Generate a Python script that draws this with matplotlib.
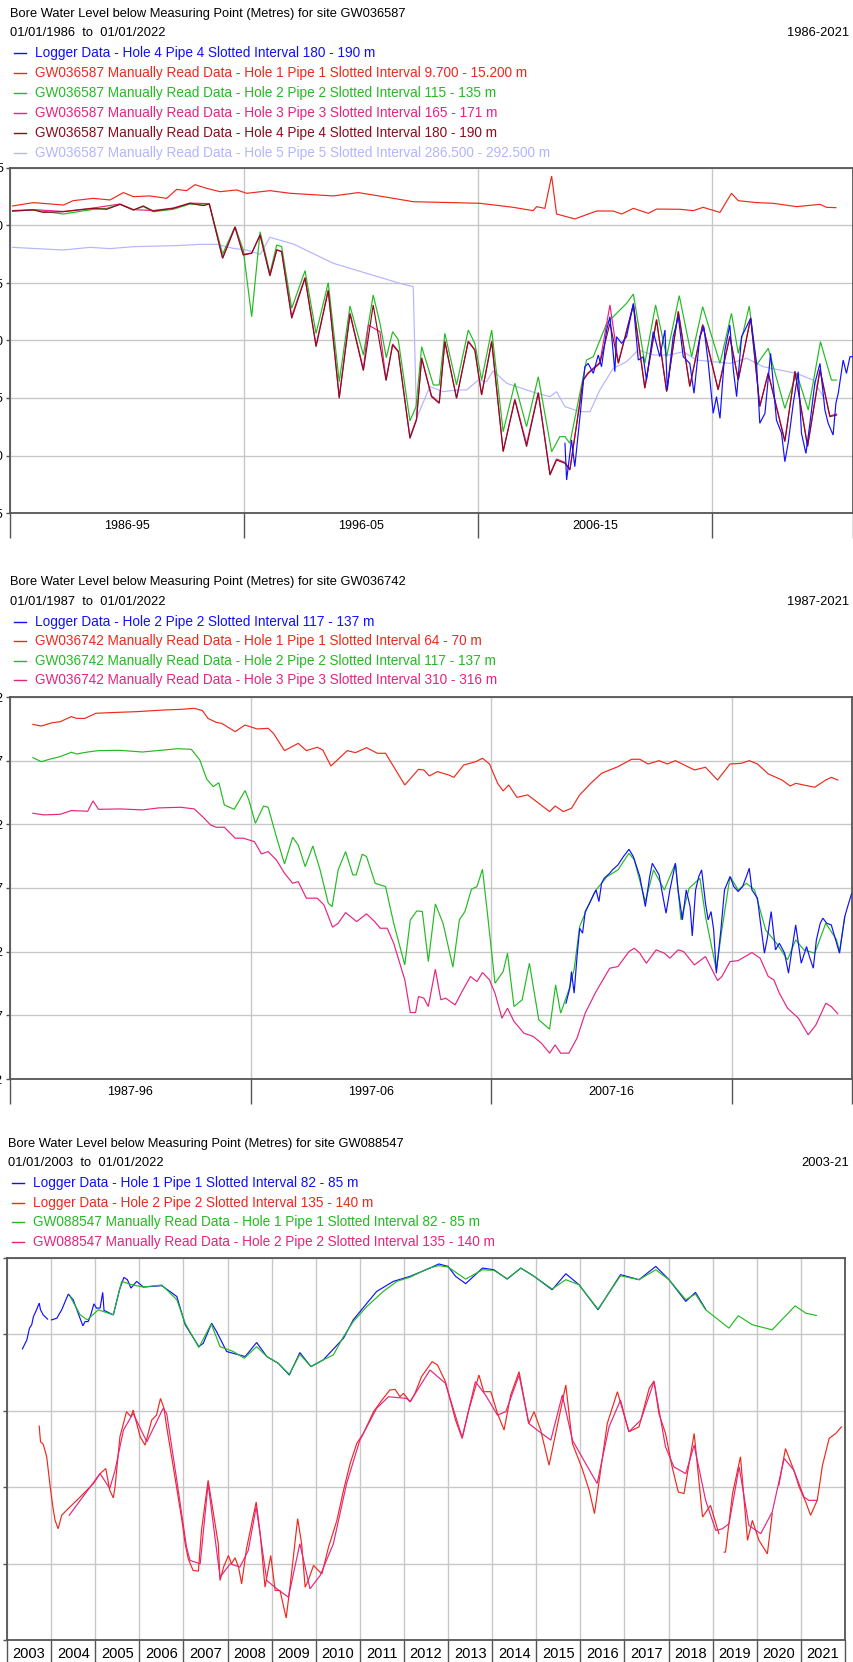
import numpy as np
import matplotlib
matplotlib.use("Agg")
import matplotlib.pyplot as plt
from matplotlib.lines import Line2D

plt.rcParams["font.family"] = ["Liberation Sans", "DejaVu Sans"]

W, H = 854, 1662          # output size in pixels (dpi 100)

# --- series colours ---
BLUE = "#1010ff"
RED = "#f0281c"
GREEN = "#22bb22"
PINK = "#e6247e"
DARKRED = "#8c0c1e"
LAVENDER = "#b4b4ff"
SPINE = "#555555"
GRID = "#c8c8c8"

# ---------------- GW036587 (depth in m, decimal year) ----------------
P1_LOGGER_H4 = [
    (2009.70, 28.94), (2009.77, 32.13), (2009.98, 28.65), (2010.12, 30.97), (2010.34, 26.62),
    (2010.55, 22.28), (2010.69, 21.99), (2010.91, 22.86), (2011.12, 21.26), (2011.26, 22.28),
    (2011.48, 19.09), (2011.62, 17.93), (2011.83, 22.71), (2011.90, 19.67), (2012.12, 20.25),
    (2012.33, 19.67), (2012.62, 16.77), (2012.83, 21.70), (2013.04, 21.41), (2013.18, 23.44),
    (2013.47, 19.23), (2013.75, 21.41), (2013.97, 19.09), (2014.07, 24.30), (2014.32, 19.67),
    (2014.54, 17.93), (2014.75, 21.41), (2015.03, 21.99), (2015.21, 24.59), (2015.46, 19.67),
    (2015.63, 18.80), (2015.82, 21.99), (2016.03, 26.33), (2016.17, 24.88), (2016.32, 26.77),
    (2016.53, 20.83), (2016.74, 18.65), (2016.89, 22.57), (2017.03, 24.88), (2017.24, 19.67),
    (2017.63, 18.07), (2017.88, 21.99), (2018.02, 27.20), (2018.24, 26.33), (2018.48, 21.12),
    (2018.73, 26.91), (2018.95, 28.07), (2019.09, 30.54), (2019.23, 28.94), (2019.45, 25.46),
    (2019.66, 22.71), (2019.80, 28.07), (2019.99, 29.82), (2020.16, 27.20), (2020.37, 23.72),
    (2020.59, 21.99), (2020.80, 26.04), (2020.94, 27.20), (2021.15, 28.22), (2021.27, 25.46),
    (2021.37, 24.59), (2021.58, 21.70), (2021.72, 22.86), (2021.87, 21.41), (2021.98, 21.41),
]
P1_MANUAL_H1 = [
    (1986.11, 8.30), (1987.00, 8.01), (1988.28, 8.22), (1988.70, 7.84), (1989.56, 7.64),
    (1990.27, 7.78), (1990.84, 7.14), (1991.27, 7.49), (1991.98, 7.43), (1992.69, 7.64),
    (1993.12, 6.86), (1993.54, 6.97), (1993.90, 6.45), (1994.40, 6.77), (1994.97, 7.06),
    (1995.68, 6.91), (1996.11, 7.20), (1997.10, 6.97), (1997.96, 7.20), (1999.81, 7.43),
    (2000.87, 7.14), (2001.94, 7.49), (2003.22, 7.93), (2006.07, 8.07), (2007.49, 8.42),
    (2008.34, 8.71), (2008.49, 8.36), (2008.84, 8.51), (2009.13, 5.70), (2009.34, 9.00),
    (2010.12, 9.43), (2011.05, 8.74), (2011.76, 8.74), (2012.12, 9.00), (2012.62, 8.51),
    (2013.26, 8.94), (2013.61, 8.57), (2014.61, 8.59), (2015.18, 8.71), (2015.60, 8.42),
    (2016.32, 8.86), (2016.81, 7.20), (2017.10, 7.84), (2017.88, 8.01), (2018.59, 8.07),
    (2019.59, 8.36), (2020.59, 8.16), (2020.87, 8.42), (2021.27, 8.45),
]
P1_MANUAL_H2 = [
    (1986.11, 8.74), (1987.00, 8.65), (1988.28, 9.00), (1989.56, 8.59), (1990.13, 8.51),
    (1990.70, 8.16), (1991.27, 8.65), (1991.69, 8.36), (1992.12, 8.80), (1992.97, 8.59),
    (1993.69, 8.13), (1994.26, 8.22), (1994.51, 8.13), (1995.08, 12.48), (1995.61, 10.10),
    (1995.96, 12.13), (1996.32, 17.93), (1996.68, 10.54), (1997.10, 14.16), (1997.39, 11.70),
    (1997.60, 11.84), (1998.03, 17.20), (1998.60, 13.93), (1999.07, 19.38), (1999.59, 14.97),
    (2000.06, 23.58), (2000.52, 17.00), (2001.09, 21.26), (2001.51, 16.04), (2001.80, 18.51),
    (2002.07, 21.50), (2002.34, 19.23), (2002.58, 19.93), (2003.08, 26.98), (2003.34, 25.75),
    (2003.58, 20.54), (2004.08, 23.87), (2004.33, 23.87), (2004.57, 19.38), (2005.07, 23.87),
    (2005.57, 19.09), (2005.85, 20.25), (2006.14, 23.44), (2006.57, 19.09), (2007.06, 27.93),
    (2007.56, 23.72), (2008.06, 27.49), (2008.56, 23.15), (2009.13, 29.67), (2009.48, 28.36),
    (2009.70, 28.36), (2009.91, 28.94), (2010.62, 21.70), (2010.91, 21.41), (2011.48, 18.51),
    (2011.76, 17.93), (2012.33, 16.77), (2012.62, 15.96), (2013.11, 21.99), (2013.57, 16.91),
    (2014.04, 21.41), (2014.58, 16.10), (2015.11, 21.41), (2015.58, 17.06), (2016.32, 21.99),
    (2016.81, 17.64), (2017.10, 21.12), (2017.57, 17.00), (2017.88, 22.13), (2018.38, 20.68),
    (2019.09, 25.90), (2019.59, 22.86), (2020.09, 26.04), (2020.61, 20.10), (2021.08, 23.44),
    (2021.30, 23.44),
]
P1_MANUAL_H3 = [
    (1986.11, 8.70), (1987.00, 8.62), (1988.28, 8.78), (1989.56, 8.48), (1990.70, 8.13),
    (1991.27, 8.62), (1992.12, 8.70), (1992.97, 8.48), (1993.69, 8.05), (1994.51, 8.10),
    (1995.08, 12.80), (1995.61, 10.10), (1995.96, 12.50), (1996.32, 12.40), (1996.68, 10.80),
    (1997.10, 14.30), (1997.39, 12.10), (1997.60, 12.25), (1998.03, 17.90), (1998.60, 14.50),
    (1999.07, 20.40), (1999.59, 15.60), (2000.06, 24.90), (2000.52, 17.60), (2001.09, 22.50),
    (2001.30, 18.65), (2001.80, 19.23), (2002.06, 23.40), (2002.34, 20.30), (2002.58, 20.90),
    (2003.08, 28.40), (2003.36, 26.80), (2003.58, 21.50), (2004.00, 24.80), (2004.33, 25.40),
    (2004.57, 20.05), (2005.07, 25.00), (2005.57, 20.05), (2005.85, 20.80), (2006.14, 24.70),
    (2006.57, 20.05), (2007.06, 29.60), (2007.56, 25.10), (2008.06, 29.00), (2008.56, 24.50),
    (2009.06, 31.60), (2009.34, 30.30), (2009.70, 30.60), (2009.91, 31.20), (2010.48, 23.40),
    (2010.69, 22.80), (2011.19, 21.90), (2011.62, 16.91), (2011.98, 21.90), (2012.62, 16.85),
    (2013.11, 24.10), (2013.61, 18.15), (2014.04, 24.40), (2014.54, 17.45), (2015.03, 23.95),
    (2015.58, 18.60), (2016.24, 24.25), (2016.74, 19.60), (2017.10, 23.40), (2017.63, 18.00),
    (2018.02, 25.70), (2018.38, 22.80), (2019.09, 28.70), (2019.52, 22.65), (2020.06, 29.15),
    (2020.59, 22.50), (2021.01, 26.55), (2021.30, 26.40),
]
P1_MANUAL_H4 = [
    (1986.11, 8.74), (1987.00, 8.65), (1987.42, 8.86), (1988.28, 8.80), (1989.56, 8.51),
    (1990.13, 8.59), (1990.70, 8.16), (1991.27, 8.65), (1991.69, 8.30), (1992.12, 8.74),
    (1992.97, 8.51), (1993.69, 8.07), (1994.26, 8.27), (1994.51, 8.13), (1995.08, 12.86),
    (1995.61, 10.16), (1995.96, 12.57), (1996.32, 12.42), (1996.68, 10.83), (1997.10, 14.39),
    (1997.39, 12.13), (1997.60, 12.28), (1998.03, 18.07), (1998.60, 14.59), (1999.07, 20.54),
    (1999.59, 15.67), (2000.06, 25.03), (2000.52, 17.70), (2001.09, 22.62), (2001.51, 16.91),
    (2002.06, 23.49), (2002.34, 20.39), (2002.58, 20.97), (2003.08, 28.51), (2003.36, 26.91),
    (2003.58, 21.55), (2004.00, 24.88), (2004.33, 25.46), (2004.57, 20.10), (2005.07, 25.03),
    (2005.57, 20.10), (2005.85, 20.83), (2006.14, 24.74), (2006.57, 20.10), (2007.06, 29.67),
    (2007.56, 25.17), (2008.06, 29.23), (2008.56, 24.59), (2009.06, 31.70), (2009.34, 30.39),
    (2009.70, 30.68), (2009.91, 31.26), (2010.48, 23.44), (2010.69, 22.86), (2011.19, 21.99),
    (2011.62, 18.51), (2011.98, 21.99), (2012.62, 16.91), (2013.11, 24.16), (2013.61, 18.22),
    (2014.04, 24.45), (2014.54, 17.49), (2015.03, 24.01), (2015.58, 18.65), (2016.24, 24.30),
    (2016.74, 19.67), (2017.10, 23.44), (2017.63, 18.07), (2018.02, 25.75), (2018.38, 22.86),
    (2019.09, 28.80), (2019.52, 22.71), (2020.06, 29.23), (2020.59, 22.57), (2021.01, 26.62),
    (2021.30, 26.48),
]
P1_MANUAL_H5 = [
    (1986.11, 11.90), (1988.28, 12.13), (1989.42, 11.90), (1990.27, 12.01), (1991.27, 11.84),
    (1993.12, 11.75), (1994.11, 11.64), (1994.82, 11.64), (1995.54, 11.99), (1996.11, 12.13),
    (1996.68, 12.51), (1997.10, 11.03), (1998.10, 11.61), (1999.81, 13.29), (2001.23, 14.16),
    (2002.65, 15.03), (2003.22, 15.32), (2003.36, 26.77), (2003.93, 24.01), (2004.50, 24.45),
    (2005.07, 24.30), (2005.50, 24.30), (2006.00, 23.44), (2006.35, 23.58), (2006.64, 22.62),
    (2007.21, 23.72), (2008.49, 24.59), (2009.06, 24.88), (2009.34, 24.45), (2009.70, 25.75),
    (2010.34, 26.19), (2010.77, 26.19), (2011.19, 24.30), (2011.76, 22.42), (2012.33, 21.84),
    (2012.83, 20.83), (2013.47, 21.26), (2014.18, 21.26), (2014.75, 20.97), (2015.32, 21.70),
    (2016.03, 21.84), (2016.74, 21.99), (2017.46, 21.55), (2018.17, 22.28), (2018.88, 22.57),
    (2019.59, 22.86), (2020.30, 23.44), (2020.73, 24.88), (2020.87, 25.17),
]

# ---------------- GW036742 ----------------
P2_LOGGER_H2 = [
    (2010.11, 36.05), (2010.27, 34.87), (2010.34, 33.56), (2010.45, 35.26), (2010.57, 32.38),
    (2010.68, 30.16), (2010.80, 30.55), (2010.91, 28.85), (2011.09, 28.20), (2011.25, 27.54),
    (2011.36, 27.15), (2011.48, 28.07), (2011.59, 26.63), (2011.70, 26.23), (2011.93, 25.84),
    (2012.04, 25.58), (2012.27, 25.19), (2012.50, 24.53), (2012.73, 23.96), (2012.91, 24.53),
    (2013.18, 26.10), (2013.41, 28.46), (2013.59, 26.10), (2013.70, 25.06), (2013.86, 25.58),
    (2013.98, 25.97), (2014.09, 27.15), (2014.27, 28.98), (2014.43, 27.15), (2014.66, 25.06),
    (2014.77, 27.15), (2014.95, 29.50), (2015.11, 27.15), (2015.27, 28.46), (2015.36, 30.76),
    (2015.50, 27.15), (2015.63, 26.10), (2015.75, 25.58), (2015.91, 28.20), (2016.02, 29.50),
    (2016.14, 28.85), (2016.25, 30.29), (2016.36, 33.69), (2016.55, 30.29), (2016.70, 27.15),
    (2016.93, 26.10), (2017.09, 26.89), (2017.27, 27.28), (2017.45, 26.89), (2017.61, 26.10),
    (2017.73, 25.45), (2017.84, 27.15), (2018.07, 27.80), (2018.18, 29.50), (2018.36, 32.12),
    (2018.48, 30.94), (2018.64, 28.85), (2018.82, 31.86), (2018.98, 31.34), (2019.20, 32.12),
    (2019.36, 33.69), (2019.50, 31.86), (2019.66, 29.90), (2019.89, 32.91), (2020.11, 31.60),
    (2020.23, 32.38), (2020.39, 33.30), (2020.52, 31.07), (2020.68, 29.77), (2020.79, 29.37),
    (2020.95, 29.77), (2021.14, 29.90), (2021.36, 31.34), (2021.48, 32.12), (2021.70, 29.24),
    (2021.86, 28.20), (2021.98, 27.46),
]
P2_MANUAL_H1 = [
    (1987.95, 14.15), (1988.30, 14.28), (1988.75, 14.02), (1989.09, 13.94), (1989.55, 13.54),
    (1989.77, 13.68), (1990.11, 13.68), (1990.57, 13.28), (1991.14, 13.23), (1992.27, 13.15),
    (1993.41, 13.02), (1994.09, 12.97), (1994.66, 12.89), (1995.00, 13.07), (1995.23, 13.68),
    (1995.57, 13.99), (1995.80, 14.07), (1996.36, 14.72), (1996.77, 14.20), (1997.27, 14.51),
    (1997.73, 14.46), (1997.95, 14.85), (1998.41, 16.21), (1998.98, 15.64), (1999.32, 16.21),
    (1999.77, 15.95), (2000.00, 16.16), (2000.34, 17.42), (2001.02, 16.21), (2001.36, 16.37),
    (2001.82, 15.98), (2002.27, 16.42), (2002.61, 16.42), (2003.41, 18.91), (2003.98, 17.68),
    (2004.20, 17.73), (2004.43, 18.20), (2004.77, 17.86), (2005.23, 18.12), (2005.45, 18.31),
    (2005.86, 17.34), (2006.36, 17.08), (2006.64, 16.81), (2006.93, 17.26), (2007.27, 18.78),
    (2007.50, 19.38), (2007.73, 18.91), (2008.07, 19.88), (2008.52, 19.69), (2008.98, 20.35),
    (2009.43, 21.00), (2009.66, 20.56), (2010.00, 21.00), (2010.34, 20.74), (2010.68, 19.69),
    (2011.14, 18.78), (2011.59, 17.99), (2012.27, 17.47), (2012.84, 16.89), (2013.18, 16.89),
    (2013.52, 17.26), (2013.98, 17.00), (2014.32, 17.26), (2014.66, 17.00), (2015.45, 17.73),
    (2015.91, 17.52), (2016.41, 18.52), (2016.93, 17.26), (2017.39, 17.21), (2017.73, 17.00),
    (2018.07, 17.26), (2018.52, 18.04), (2019.09, 18.52), (2019.43, 18.99), (2019.66, 18.78),
    (2020.45, 19.09), (2020.91, 18.52), (2021.14, 18.31), (2021.41, 18.52),
]
P2_MANUAL_H2 = [
    (1987.95, 16.76), (1988.30, 17.08), (1988.64, 16.89), (1989.09, 16.68), (1989.55, 16.34),
    (1989.77, 16.47), (1990.23, 16.32), (1990.68, 16.21), (1991.59, 16.19), (1992.50, 16.32),
    (1993.41, 16.16), (1993.98, 16.06), (1994.54, 16.11), (1994.89, 16.95), (1995.18, 18.46),
    (1995.45, 19.04), (1995.68, 18.73), (1995.91, 20.48), (1996.32, 20.82), (1996.77, 19.35),
    (1996.93, 20.09), (1997.20, 21.92), (1997.54, 20.56), (1997.73, 20.66), (1998.07, 22.96),
    (1998.41, 25.11), (1998.75, 23.02), (1998.98, 23.62), (1999.27, 25.32), (1999.59, 23.70),
    (1999.89, 25.58), (2000.23, 28.20), (2000.39, 28.46), (2000.64, 25.58), (2000.95, 24.14),
    (2001.25, 25.97), (2001.39, 25.97), (2001.64, 24.35), (2001.82, 24.53), (2002.18, 26.63),
    (2002.61, 26.89), (2002.95, 29.77), (2003.41, 33.04), (2003.64, 29.50), (2003.91, 28.80),
    (2004.14, 28.85), (2004.39, 32.78), (2004.68, 28.25), (2005.00, 29.77), (2005.41, 33.22),
    (2005.68, 29.50), (2005.91, 28.85), (2006.18, 27.10), (2006.41, 26.89), (2006.64, 25.53),
    (2006.86, 29.24), (2007.16, 34.48), (2007.50, 33.56), (2007.68, 32.12), (2007.95, 36.31),
    (2008.29, 35.78), (2008.59, 32.91), (2008.98, 37.35), (2009.43, 38.09), (2009.68, 34.61),
    (2009.89, 36.83), (2010.23, 35.00), (2010.45, 33.38), (2010.68, 30.03), (2011.02, 28.46),
    (2011.36, 27.15), (2011.82, 26.10), (2012.27, 25.58), (2012.73, 24.27), (2012.95, 24.79),
    (2013.41, 28.07), (2013.75, 25.58), (2014.20, 27.15), (2014.66, 25.06), (2014.89, 29.50),
    (2015.23, 27.02), (2015.68, 26.23), (2015.91, 29.24), (2016.36, 33.43), (2016.59, 30.29),
    (2016.93, 26.10), (2017.27, 27.15), (2017.61, 26.63), (2017.95, 27.15), (2018.41, 30.29),
    (2018.86, 31.34), (2019.32, 32.64), (2019.66, 31.07), (2020.00, 31.86), (2020.45, 32.12),
    (2020.91, 29.77), (2021.36, 31.07), (2021.48, 31.99), (2021.70, 29.24),
]
P2_MANUAL_H3 = [
    (1987.95, 21.13), (1988.41, 21.26), (1989.09, 21.21), (1989.55, 20.92), (1990.23, 20.97),
    (1990.45, 20.16), (1990.68, 20.82), (1991.59, 20.79), (1992.50, 20.87), (1993.18, 20.71),
    (1994.09, 20.66), (1994.66, 20.79), (1995.00, 21.39), (1995.34, 22.05), (1995.57, 22.23),
    (1995.91, 22.23), (1996.36, 23.09), (1996.70, 23.09), (1997.16, 23.36), (1997.45, 24.32),
    (1997.73, 24.14), (1998.07, 24.79), (1998.41, 25.84), (1998.75, 26.63), (1998.98, 26.50),
    (1999.32, 27.80), (1999.77, 27.80), (2000.05, 28.33), (2000.41, 30.08), (2000.64, 29.77),
    (2000.95, 28.93), (2001.41, 29.64), (2001.82, 29.03), (2002.16, 29.64), (2002.39, 30.16),
    (2002.68, 30.16), (2002.95, 31.34), (2003.41, 34.21), (2003.64, 36.78), (2003.86, 36.78),
    (2003.98, 35.52), (2004.20, 35.65), (2004.39, 36.31), (2004.68, 33.38), (2004.91, 35.78),
    (2005.11, 35.65), (2005.50, 36.18), (2005.79, 35.13), (2006.14, 33.95), (2006.41, 34.35),
    (2006.64, 33.64), (2006.93, 34.21), (2007.16, 35.26), (2007.45, 37.22), (2007.68, 36.44),
    (2007.95, 37.48), (2008.36, 38.40), (2008.75, 38.66), (2009.09, 39.19), (2009.43, 39.97),
    (2009.66, 39.32), (2009.89, 39.97), (2010.23, 39.97), (2010.57, 38.79), (2010.91, 36.83),
    (2011.36, 35.13), (2011.93, 33.30), (2012.27, 33.17), (2012.73, 31.99), (2012.95, 31.73),
    (2013.18, 32.12), (2013.45, 32.91), (2013.86, 31.86), (2014.20, 32.12), (2014.43, 32.51),
    (2014.77, 31.86), (2015.00, 31.99), (2015.45, 33.04), (2015.91, 32.38), (2016.41, 34.27),
    (2016.59, 33.95), (2016.93, 32.78), (2017.27, 32.70), (2017.84, 32.07), (2018.18, 32.51),
    (2018.52, 33.95), (2018.75, 34.21), (2018.98, 35.26), (2019.32, 36.44), (2019.77, 37.22),
    (2020.18, 38.53), (2020.50, 37.75), (2020.91, 36.05), (2021.14, 36.31), (2021.41, 36.88),
]

# ---------------- GW088547 (None = gap in record) ----------------
P3_LOGGER_H1 = [
    (2003.35, 34.95), (2003.45, 34.36), (2003.51, 33.59), (2003.56, 33.37), (2003.60, 32.83),
    (2003.67, 32.39), (2003.73, 31.95), (2003.76, 32.39), (2003.82, 32.72), (2003.92, 33.00),
    (2003.96, None),
    (2004.01, 33.05), (2004.13, 32.94), (2004.24, 32.39), (2004.39, 31.36), (2004.50, 31.73),
    (2004.72, 33.44), (2004.77, 33.16), (2004.84, 33.16), (2004.90, 32.72), (2004.97, 32.00),
    (2005.03, 32.28), (2005.11, 32.28), (2005.17, 31.25), (2005.20, 32.43), (2005.41, 32.72),
    (2005.55, 31.08), (2005.65, 30.27), (2005.73, 30.42), (2005.81, 30.97), (2005.94, 30.53),
    (2006.09, 30.90), (2006.51, 30.81), (2006.85, 31.52), (2007.04, 33.37), (2007.35, 34.80),
    (2007.45, 34.58), (2007.64, 33.27), (2007.75, 33.81), (2007.98, 35.12), (2008.40, 35.45),
    (2008.66, 34.53), (2008.89, 35.45), (2009.15, 35.89), (2009.40, 36.66), (2009.64, 35.19),
    (2009.89, 36.11), (2010.17, 35.67), (2010.63, 34.25), (2010.85, 33.05), (2011.38, 31.19),
    (2011.76, 30.53), (2012.14, 30.20), (2012.59, 29.66), (2012.79, 29.39), (2013.00, 29.55),
    (2013.17, 30.20), (2013.40, 30.68), (2013.78, 29.66), (2014.04, 29.77), (2014.34, 30.38),
    (2014.65, 29.66), (2014.95, 30.20), (2015.36, 31.08), (2015.67, 30.03), (2015.97, 30.75),
    (2016.40, 32.39), (2016.91, 30.09), (2017.33, 30.42), (2017.71, 29.55), (2018.01, 30.42),
    (2018.39, 31.84), (2018.61, 31.25), (2018.84, 32.35),
]
P3_LOGGER_H2 = [
    (2003.73, 40.00), (2003.76, 41.03), (2003.82, 41.18), (2003.90, 42.01), (2003.98, 43.98),
    (2004.04, 45.29), (2004.09, 46.17), (2004.16, 46.72), (2004.24, 45.84), (2004.35, 45.51),
    (2004.66, 44.64), (2004.96, 43.76), (2005.11, 43.11), (2005.24, 42.78), (2005.33, 44.20),
    (2005.41, 44.70), (2005.45, 43.98), (2005.56, 40.70), (2005.71, 39.06), (2005.81, 39.39),
    (2005.86, 38.95), (2006.02, 40.70), (2006.13, 41.25), (2006.28, 39.61), (2006.39, 39.28),
    (2006.48, 38.19), (2006.56, 38.84), (2006.62, 40.05), (2006.77, 42.67), (2006.96, 46.06),
    (2007.04, 47.70), (2007.11, 48.69), (2007.22, 49.45), (2007.34, 49.49), (2007.41, 46.83),
    (2007.56, 43.55), (2007.68, 45.73), (2007.79, 47.70), (2007.83, 50.11), (2007.91, 49.23),
    (2008.02, 48.47), (2008.09, 49.01), (2008.17, 48.62), (2008.25, 49.23), (2008.32, 50.33),
    (2008.43, 48.03), (2008.65, 44.97), (2008.74, 47.04), (2008.85, 50.54), (2008.98, 48.47),
    (2009.08, 50.76), (2009.19, 50.76), (2009.33, 52.56), (2009.42, 50.43), (2009.59, 46.06),
    (2009.68, 47.70), (2009.76, 50.54), (2009.83, 50.11), (2009.95, 49.12), (2010.06, 49.45),
    (2010.14, 49.67), (2010.29, 47.92), (2010.48, 46.17), (2010.63, 44.20), (2010.78, 42.45),
    (2010.93, 41.14), (2011.08, 40.48), (2011.31, 39.06), (2011.50, 38.30), (2011.68, 37.64),
    (2011.80, 37.60), (2011.91, 38.08), (2011.99, 37.86), (2012.14, 38.41), (2012.25, 37.86),
    (2012.40, 36.76), (2012.64, 35.78), (2012.76, 36.00), (2012.94, 37.09), (2013.17, 39.61),
    (2013.32, 40.81), (2013.47, 38.95), (2013.70, 36.66), (2013.81, 37.75), (2013.97, 37.75),
    (2014.12, 39.17), (2014.27, 40.26), (2014.42, 37.97), (2014.61, 36.44), (2014.83, 39.83),
    (2014.95, 39.06), (2015.10, 40.26), (2015.29, 42.56), (2015.44, 40.48), (2015.67, 37.31),
    (2015.82, 41.14), (2016.04, 42.78), (2016.20, 44.20), (2016.32, 45.73), (2016.46, 42.89),
    (2016.61, 39.83), (2016.84, 37.75), (2017.10, 40.37), (2017.33, 40.05), (2017.56, 37.53),
    (2017.67, 37.05), (2017.78, 39.17), (2017.93, 40.48), (2018.08, 42.67), (2018.22, 44.31),
    (2018.35, 44.42), (2018.58, 40.48), (2018.77, 45.95), (2018.95, 45.19), (2019.14, 47.04),
    (2019.20, None),
    (2019.26, 48.25), (2019.29, 48.25), (2019.45, 44.42), (2019.63, 42.01), (2019.79, 47.48),
    (2019.90, 46.17), (2020.05, 47.48), (2020.24, 48.36), (2020.35, 45.73),
    (2020.42, None),
    (2020.50, 43.87), (2020.65, 41.47), (2020.84, 42.89), (2020.96, 43.98), (2021.11, 44.97),
    (2021.22, 45.84), (2021.37, 44.86), (2021.49, 42.56), (2021.64, 40.81), (2021.79, 40.48),
    (2021.92, 40.05),
]
P3_MANUAL_H1 = [
    (2004.43, 31.52), (2004.66, 32.72), (2004.82, 33.05), (2005.07, 32.39), (2005.41, 32.72),
    (2005.60, 30.53), (2005.83, 30.75), (2006.09, 30.90), (2006.51, 30.77), (2006.85, 31.73),
    (2007.04, 33.27), (2007.35, 34.86), (2007.63, 33.31), (2007.83, 34.80), (2008.13, 35.12),
    (2008.38, 35.56), (2008.66, 34.80), (2008.89, 35.45), (2009.15, 35.89), (2009.40, 36.61),
    (2009.64, 35.30), (2009.89, 36.11), (2010.17, 35.67), (2010.40, 35.34), (2010.63, 34.14),
    (2010.85, 33.16), (2011.16, 32.17), (2011.53, 31.19), (2011.84, 30.53), (2012.14, 30.25),
    (2012.57, 29.66), (2012.79, 29.50), (2013.00, 29.59), (2013.40, 30.38), (2013.78, 29.77),
    (2014.04, 29.81), (2014.34, 30.36), (2014.65, 29.66), (2014.95, 30.20), (2015.36, 31.03),
    (2015.67, 30.42), (2015.97, 30.75), (2016.40, 32.35), (2016.91, 30.16), (2017.33, 30.42),
    (2017.71, 29.77), (2018.01, 30.42), (2018.39, 31.73), (2018.61, 31.36), (2018.84, 32.39),
    (2019.37, 33.59), (2019.58, 32.78), (2019.90, 33.37), (2020.35, 33.70), (2020.87, 32.13),
    (2021.11, 32.61), (2021.35, 32.76),
]
P3_MANUAL_H2 = [
    (2004.41, 45.84), (2005.11, 43.11), (2005.33, 44.09), (2005.45, 42.89), (2005.64, 40.26),
    (2005.86, 39.17), (2006.17, 41.03), (2006.54, 38.84), (2006.62, 39.17), (2006.85, 43.55),
    (2007.07, 47.92), (2007.15, 48.79), (2007.38, 49.01), (2007.56, 43.76), (2007.83, 49.89),
    (2008.06, 49.01), (2008.28, 49.23), (2008.47, 48.14), (2008.65, 45.29), (2008.89, 50.11),
    (2009.12, 50.65), (2009.38, 51.20), (2009.64, 47.70), (2009.87, 50.65), (2010.10, 49.78),
    (2010.40, 47.70), (2010.70, 43.76), (2011.00, 40.92), (2011.38, 38.84), (2011.65, 38.08),
    (2012.06, 38.19), (2012.14, 38.41), (2012.59, 36.33), (2012.94, 37.20), (2013.32, 40.75),
    (2013.62, 37.09), (2013.85, 37.97), (2014.12, 39.28), (2014.31, 39.06), (2014.61, 36.66),
    (2014.83, 39.83), (2015.02, 40.26), (2015.33, 40.92), (2015.59, 37.97), (2015.82, 40.92),
    (2016.12, 42.45), (2016.38, 43.76), (2016.65, 40.05), (2016.91, 38.30), (2017.10, 40.37),
    (2017.37, 39.61), (2017.67, 37.09), (2017.93, 41.36), (2018.12, 42.67), (2018.39, 43.11),
    (2018.58, 41.25), (2018.84, 44.86), (2019.07, 46.83), (2019.22, 46.72), (2019.37, 46.39),
    (2019.60, 42.67), (2019.82, 46.50), (2020.09, 47.04), (2020.35, 45.62), (2020.62, 42.12),
    (2020.84, 42.89), (2021.07, 44.64), (2021.18, 44.86), (2021.37, 44.86),
]

# --- axis ticks and period labels ---
P1_YTICKS = [5, 10, 15, 20, 25, 30, 35]
P1_BOUNDS = [1986, 1996, 2006, 2016, 2022]
P1_PERIODS = ["1986-95", "1996-05", "2006-15"]
P2_YTICKS = [12, 17, 22, 27, 32, 37, 42]
P2_BOUNDS = [1987, 1997, 2007, 2017, 2022]
P2_PERIODS = ["1987-96", "1997-06", "2007-16"]
P3_YTICKS = [29, 34, 39, 44, 49, 54]
P3_BOUNDS = list(range(2003, 2023))
P3_PERIODS = [str(y) for y in range(2003, 2022)]

# --- header text ---
P1_TITLE = "Bore Water Level below Measuring Point (Metres) for site GW036587"
P1_RANGE = "01/01/1986  to  01/01/2022"
P1_SPAN = "1986-2021"
P1_LEGEND = [
    ("Logger Data - Hole 4 Pipe 4 Slotted Interval 180 - 190 m", BLUE),
    ("GW036587 Manually Read Data - Hole 1 Pipe 1 Slotted Interval 9.700 - 15.200 m", RED),
    ("GW036587 Manually Read Data - Hole 2 Pipe 2 Slotted Interval 115 - 135 m", GREEN),
    ("GW036587 Manually Read Data - Hole 3 Pipe 3 Slotted Interval 165 - 171 m", PINK),
    ("GW036587 Manually Read Data - Hole 4 Pipe 4 Slotted Interval 180 - 190 m", DARKRED),
    ("GW036587 Manually Read Data - Hole 5 Pipe 5 Slotted Interval 286.500 - 292.500 m", LAVENDER),
]
P2_TITLE = "Bore Water Level below Measuring Point (Metres) for site GW036742"
P2_RANGE = "01/01/1987  to  01/01/2022"
P2_SPAN = "1987-2021"
P2_LEGEND = [
    ("Logger Data - Hole 2 Pipe 2 Slotted Interval 117 - 137 m", BLUE),
    ("GW036742 Manually Read Data - Hole 1 Pipe 1 Slotted Interval 64 - 70 m", RED),
    ("GW036742 Manually Read Data - Hole 2 Pipe 2 Slotted Interval 117 - 137 m", GREEN),
    ("GW036742 Manually Read Data - Hole 3 Pipe 3 Slotted Interval 310 - 316 m", PINK),
]
P3_TITLE = "Bore Water Level below Measuring Point (Metres) for site GW088547"
P3_RANGE = "01/01/2003  to  01/01/2022"
P3_SPAN = "2003-21"
P3_LEGEND = [
    ("Logger Data - Hole 1 Pipe 1 Slotted Interval 82 - 85 m", BLUE),
    ("Logger Data - Hole 2 Pipe 2 Slotted Interval 135 - 140 m", RED),
    ("GW088547 Manually Read Data - Hole 1 Pipe 1 Slotted Interval 82 - 85 m", GREEN),
    ("GW088547 Manually Read Data - Hole 2 Pipe 2 Slotted Interval 135 - 140 m", PINK),
]

TXT = 9.3      # title / date range / span
LEG = 9.8      # colour-keyed series list
TICK = 9.0


def unzip(pts):
    t = np.array([p[0] for p in pts])
    v = np.array([np.nan if p[1] is None else p[1] for p in pts], dtype=float)
    return t, v


def header(fig, x0, ys, title, rng, span, legend):
    """Title, date range, span label and colour-keyed series list above a panel."""
    y_title, y_range, y_leg, step = ys
    fig.text(x0 / W, 1 - y_title / H, title, fontsize=TXT, va="center", ha="left")
    fig.text(x0 / W, 1 - y_range / H, rng, fontsize=TXT, va="center", ha="left")
    fig.text(849 / W, 1 - y_range / H, span, fontsize=TXT, va="center", ha="right")
    for i, (label, col) in enumerate(legend):
        yy = 1 - (y_leg + i * step) / H
        fig.add_artist(Line2D([(x0 + 4) / W, (x0 + 16) / W], [yy, yy], color=col, lw=1.0))
        fig.text((x0 + 25) / W, yy, label, color=col, fontsize=LEG, va="center", ha="left")


def panel(fig, box, xlim, ylim, yticks, bounds, periods, period_fs, series):
    left, top, right, bottom = box
    ax = fig.add_axes([left / W, 1 - bottom / H, (right - left) / W, (bottom - top) / H])
    for pts, col, z in series:
        t, v = unzip(pts)
        ax.plot(t, v, color=col, lw=0.85, zorder=z, solid_joinstyle="miter")
    ax.set_xlim(*xlim)
    ax.set_ylim(*ylim)            # depth below measuring point grows downward
    ax.set_yticks(yticks)
    ax.set_yticklabels([str(v) for v in yticks])
    ax.set_xticks(bounds)
    ax.set_xticklabels([])
    centres = [(a + b) / 2 for a, b in zip(bounds[:-1], bounds[1:])][:len(periods)]
    ax.set_xticks(centres, minor=True)
    ax.set_xticklabels(periods, minor=True, fontsize=period_fs)
    ax.tick_params(axis="x", which="major", length=18, width=1.0, color=SPINE, direction="out")
    ax.tick_params(axis="x", which="minor", length=0, pad=5)
    ax.tick_params(axis="y", which="major", length=3, width=1.0, color=SPINE,
                   direction="out", labelsize=TICK, pad=2)
    ax.grid(True, which="major", color=GRID, lw=1.0)
    ax.set_axisbelow(True)
    for s in ax.spines.values():
        s.set_color(SPINE)
        s.set_linewidth(1.3)
    return ax


fig = plt.figure(figsize=(W / 100, H / 100), dpi=100)
fig.patch.set_facecolor("white")

# GW036587
header(fig, 10, (14, 33, 53, 20.0), P1_TITLE, P1_RANGE, P1_SPAN, P1_LEGEND)
panel(fig, (10, 168, 853, 513), (1986, 2022), (35, 5), P1_YTICKS, P1_BOUNDS, P1_PERIODS, TICK, [
    (P1_MANUAL_H1, RED, 2),
    (P1_MANUAL_H2, GREEN, 3),
    (P1_MANUAL_H3, PINK, 4),
    (P1_MANUAL_H4, DARKRED, 5),
    (P1_MANUAL_H5, LAVENDER, 1),
    (P1_LOGGER_H4, BLUE, 6),
])

# GW036742
header(fig, 10, (582, 602, 622, 19.4), P2_TITLE, P2_RANGE, P2_SPAN, P2_LEGEND)
panel(fig, (10, 697, 852, 1079), (1987, 2022), (42, 12), P2_YTICKS, P2_BOUNDS, P2_PERIODS, TICK, [
    (P2_MANUAL_H1, RED, 2),
    (P2_MANUAL_H2, GREEN, 3),
    (P2_MANUAL_H3, PINK, 4),
    (P2_LOGGER_H2, BLUE, 5),
])

# GW088547
header(fig, 8, (1144, 1163, 1183, 19.6), P3_TITLE, P3_RANGE, P3_SPAN, P3_LEGEND)
panel(fig, (7, 1258, 845, 1640), (2003, 2022), (54, 29), P3_YTICKS, P3_BOUNDS, P3_PERIODS, 10.5, [
    (P3_LOGGER_H1, BLUE, 2),
    (P3_LOGGER_H2, RED, 3),
    (P3_MANUAL_H1, GREEN, 4),
    (P3_MANUAL_H2, PINK, 5),
])

fig.savefig("out.png", dpi=100)
